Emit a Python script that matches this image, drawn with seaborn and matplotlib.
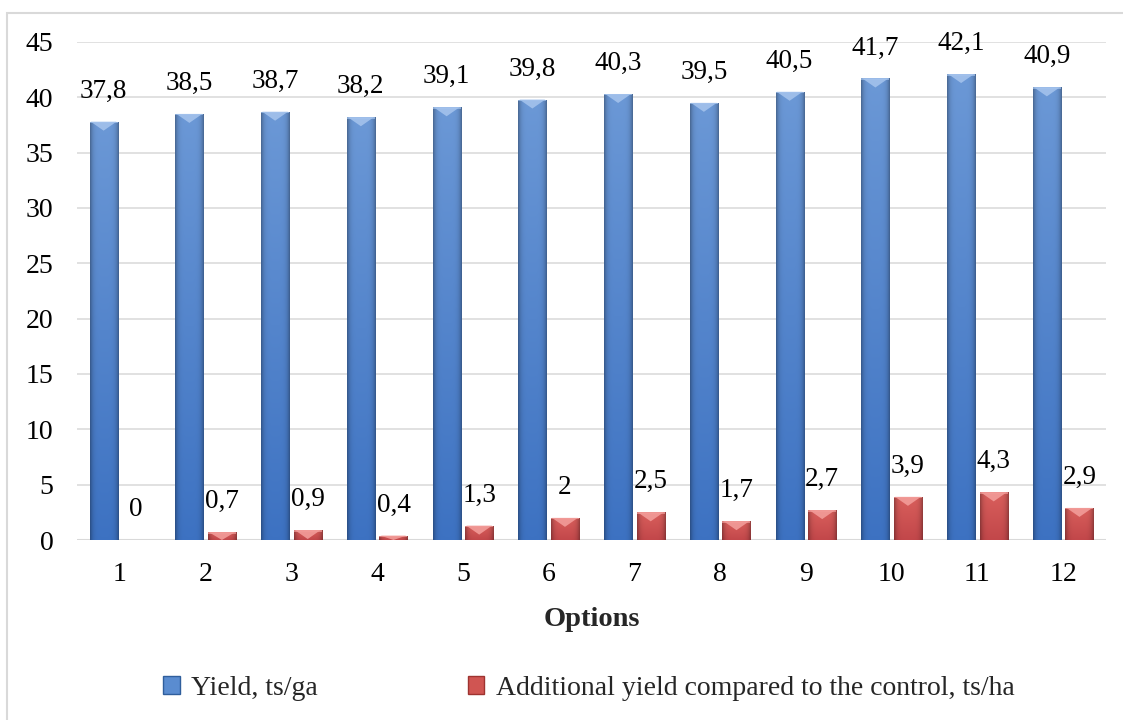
import numpy as np
import pandas as pd
import matplotlib
matplotlib.use("Agg")
import matplotlib.pyplot as plt
import seaborn as sns
from matplotlib.colors import to_rgb
from matplotlib.patches import Polygon, Patch, Rectangle

# Data
options = [str(i) for i in range(1, 13)]
yield_ts = [37.8, 38.5, 38.7, 38.2, 39.1, 39.8, 40.3, 39.5, 40.5, 41.7, 42.1, 40.9]
additional = [0, 0.7, 0.9, 0.4, 1.3, 2, 2.5, 1.7, 2.7, 3.9, 4.3, 2.9]
series_names = ["Yield, ts/ga", "Additional yield compared to the control, ts/ha"]

df = pd.DataFrame({
    "Option": options * 2,
    "Value": yield_ts + additional,
    "Series": [series_names[0]] * len(options) + [series_names[1]] * len(options),
})

sns.set_theme(style="white")
plt.rcParams["font.family"] = ["Liberation Serif", "DejaVu Serif"]

BLUE = "#4a7ebf"
RED = "#c84f4c"
palette = {series_names[0]: BLUE, series_names[1]: RED}

fig = plt.figure(figsize=(11.23, 7.2), dpi=100)
ax = fig.add_axes([0.0686, 0.25, 0.9163, 0.6917])

sns.barplot(data=df, x="Option", y="Value", hue="Series", palette=palette,
            width=0.76, gap=0.14, saturation=1, legend=False, ax=ax,
            edgecolor="none", linewidth=0)

ax.set_xlim(-0.5, len(options) - 0.5)
ax.set_ylim(0, 45)
ax.set_yticks(range(0, 46, 5))
ax.yaxis.grid(True, color="#d9d9d9", linewidth=1.1)
ax.set_axisbelow(True)
for s in ax.spines.values():
    s.set_visible(False)
ax.axhline(0, color="#d9d9d9", linewidth=2.2, zorder=1)

ax.tick_params(axis="both", length=0, labelsize=20, colors="#000000")
ax.tick_params(axis="y", pad=17)
ax.tick_params(axis="x", pad=16)
ax.set_ylabel("")
ax.set_xlabel("Options", fontsize=20.5, fontweight="bold", labelpad=14)


def shaded_fill(top, bottom, n=64):
    """RGB image: vertical blend top->bottom with darker side edges."""
    t = np.array(to_rgb(top))
    b = np.array(to_rgb(bottom))
    v = np.linspace(0, 1, n)[:, None, None]
    base = t * (1 - v) + b * v
    x = np.linspace(-1, 1, n)[None, :, None]
    edge = 1 - 0.32 * np.abs(x) ** 5
    return np.clip(base * edge, 0, 1)


fills = {BLUE: shaded_fill("#6b98d6", "#3d72c2"), RED: shaded_fill("#d95f5c", "#c2474a")}
bevel = {BLUE: "#a3c2ec", RED: "#f29c99"}
per_px = 45 / (0.6917 * 720)
for cont, color in zip(ax.containers, [BLUE, RED]):
    for p in cont.patches:
        x0, y0 = p.get_x(), p.get_y()
        w, h = p.get_width(), p.get_height()
        if h <= 0:
            continue
        im = ax.imshow(fills[color], extent=[x0, x0 + w, y0, y0 + h], aspect="auto",
                       zorder=2.5, interpolation="bilinear")
        im.set_clip_path(p)
        d = min(9 * per_px, h)
        tri = Polygon([(x0 + 0.04 * w, y0 + h), (x0 + 0.96 * w, y0 + h), (x0 + w / 2, y0 + h - d)],
                      closed=True, facecolor=bevel[color], edgecolor="none", alpha=0.9, zorder=2.6)
        ax.add_patch(tri)
        ax.add_patch(Rectangle((x0, y0 + h - min(1.5 * per_px, h)), w, min(1.5 * per_px, h),
                               facecolor=bevel[color], edgecolor="none", alpha=0.7, zorder=2.6))
ax.set_xlim(-0.5, len(options) - 0.5)
ax.set_ylim(0, 45)

# Value labels with decimal commas
for cont, vals in zip(ax.containers, [yield_ts, additional]):
    labels = [f"{v:g}".replace(".", ",") for v in vals]
    ax.bar_label(cont, labels=labels, padding=13, fontsize=19.5, color="#000000")

# Legend
handles = [Patch(facecolor="#5a8cd0", edgecolor="#2f5e9c"), Patch(facecolor="#d05552", edgecolor="#9e3330")]
fig.legend(handles, series_names, loc="center", bbox_to_anchor=(0.5245, 0.044), ncol=2,
           frameon=False, fontsize=20, handlelength=0.58, handleheight=0.58,
           handletextpad=0.42, columnspacing=5.4)

# Chart frame
fig.patches.append(Rectangle((7 / 1123, -0.2), 1.2, 0.2 + 1 - 13 / 720, transform=fig.transFigure,
                             fill=False, edgecolor="#d9d9d9", linewidth=1.5, zorder=0))

fig.savefig("out.png", dpi=100)
